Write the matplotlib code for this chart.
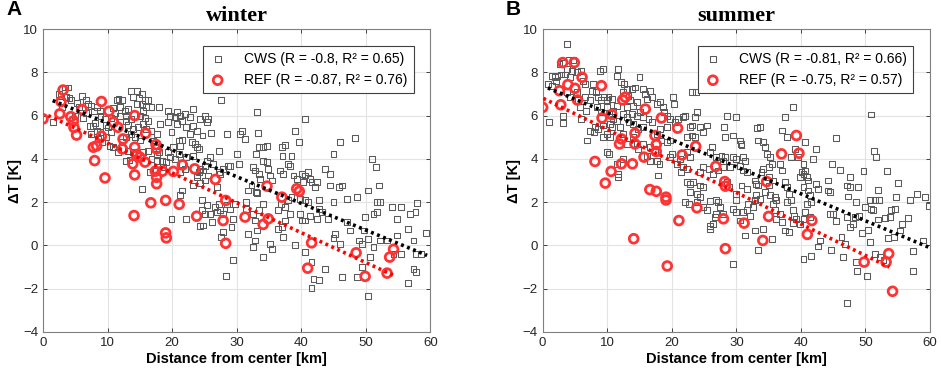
import numpy as np
import matplotlib
matplotlib.use("Agg")
import matplotlib.pyplot as plt

plt.rcParams["font.family"] = ["Liberation Sans", "DejaVu Sans"]

# ---- data: (distance km, dT K) ----
winter_cws = [
    (1.6, 5.7), (2.5, 7.0), (3.4, 7.3), (3.9, 7.3), (4.1, 6.8), (3.6, 6.85), (4.3, 6.7), (2.8, 6.9),
    (6.0, 6.9), (6.7, 6.7), (7.0, 6.55), (5.6, 6.4), (4.9, 6.0), (6.2, 5.9), (6.6, 6.1), (7.3, 5.5),
    (7.7, 5.5), (8.1, 5.65), (8.3, 5.3), (8.8, 5.25), (7.5, 5.15), (8.5, 4.9), (7.9, 6.2), (7.5, 6.45),
    (8.3, 6.4), (8.8, 6.2), (8.9, 6.0), (9.6, 5.85), (9.7, 5.55), (10.1, 5.45), (10.5, 5.25), (9.8, 5.0),
    (10.3, 4.6), (10.9, 4.55), (11.4, 6.7), (11.7, 6.77), (12.3, 6.7), (11.9, 6.4), (10.9, 6.35),
    (11.2, 6.1), (11.9, 6.0), (12.7, 6.2), (13.2, 6.3), (12.9, 6.0), (12.8, 5.77), (13.6, 5.85),
    (13.2, 5.55), (13.7, 7.15), (14.6, 7.15), (15.4, 7.0), (14.0, 6.85), (14.9, 6.8), (15.8, 6.72),
    (16.2, 6.7), (14.5, 6.55), (15.3, 6.55), (16.0, 6.4), (16.8, 6.4), (15.5, 6.2), (15.0, 6.0),
    (15.8, 5.9), (16.3, 5.77), (15.5, 5.6), (14.7, 5.46), (16.0, 5.4), (16.8, 5.3), (14.0, 5.4),
    (13.7, 5.15), (14.2, 5.0), (15.0, 4.85), (12.9, 5.0), (12.2, 4.77), (13.2, 4.38), (14.0, 4.3),
    (13.4, 3.95), (12.9, 3.9), (11.6, 4.3), (15.5, 4.3), (16.3, 4.38), (17.1, 4.85), (18.0, 6.4),
    (18.1, 5.6), (17.6, 5.15), (18.0, 4.3), (18.4, 3.9), (16.6, 3.38), (17.3, 3.46), (15.4, 2.6),
    (19.4, 6.23), (19.7, 6.0), (20.4, 5.92), (20.7, 6.15), (21.2, 6.0), (21.5, 5.74), (22.0, 6.08),
    (19.4, 5.7), (20.7, 5.6), (19.9, 5.23), (21.0, 4.85), (21.6, 4.88), (21.2, 4.6), (20.2, 4.54),
    (19.4, 4.3), (21.0, 4.23), (22.2, 5.46), (22.8, 5.15), (23.3, 6.3), (22.8, 5.92), (23.2, 5.5),
    (23.8, 5.28), (24.3, 5.85), (25.1, 6.0), (25.4, 5.7), (25.6, 5.85), (26.0, 5.18), (24.7, 5.08),
    (23.1, 4.77), (23.5, 4.7), (23.8, 4.54), (24.1, 4.46), (23.2, 4.15), (22.2, 4.08), (21.5, 3.77),
    (22.0, 3.54), (21.2, 3.38), (21.5, 2.54), (21.2, 2.31), (19.9, 1.23), (22.1, 1.23), (23.8, 3.23),
    (24.1, 3.38), (24.3, 3.54), (24.8, 3.46), (25.1, 3.69), (25.4, 3.92), (25.9, 4.08), (25.6, 3.23),
    (25.1, 3.0), (24.3, 2.88), (23.8, 3.15), (23.3, 2.77), (24.6, 2.08), (25.4, 1.85), (25.1, 1.46),
    (25.9, 1.46), (24.8, 0.92), (24.3, 0.88), (26.2, 1.08), (27.2, 4.38), (27.6, 6.74), (28.5, 5.15),
    (26.4, 3.77), (27.2, 3.38), (27.4, 3.3), (27.9, 3.54), (28.7, 3.65), (29.0, 3.69), (26.9, 2.7),
    (26.7, 1.77), (27.2, 1.92), (26.9, 1.54), (27.4, 1.62), (27.9, 1.46), (28.5, 1.89), (29.0, 1.66),
    (29.8, 1.92), (30.0, 4.23), (30.4, 3.77), (30.5, 5.15), (30.8, 5.3), (31.3, 4.92), (29.5, 1.23),
    (29.2, 0.85), (27.9, 0.62), (27.6, 0.38), (29.5, -0.66), (28.3, -1.43), (31.5, 1.69), (31.4, 2.0),
    (31.8, 2.54), (32.3, 2.77), (33.1, 6.15), (33.3, 5.2), (33.4, 4.54), (34.1, 4.54), (34.7, 4.6),
    (33.0, 4.23), (32.6, 3.62), (32.9, 3.46), (33.4, 3.3), (33.6, 3.08), (33.0, 2.46), (33.1, 2.42),
    (34.1, 3.92), (34.7, 3.85), (34.9, 3.54), (35.2, 3.23), (35.5, 3.0), (34.1, 1.92), (33.4, 1.62),
    (32.6, 1.46), (32.9, 1.15), (33.1, 0.69), (31.8, 0.54), (32.9, 0.23), (32.6, -0.08), (34.1, -0.54),
    (35.5, -0.15), (35.2, 0.08), (36.4, 0.77), (37.0, 0.85), (37.2, 0.38), (36.4, 1.62), (36.9, 1.92),
    (37.5, 1.77), (38.0, 2.08), (38.5, 2.23), (37.5, 1.15), (38.3, 1.46), (37.0, 4.54), (37.5, 4.66),
    (37.1, 4.15), (38.5, 4.15), (39.0, 5.28), (39.6, 4.77), (38.0, 3.77), (38.3, 3.69), (36.7, 3.46),
    (37.2, 3.3), (38.8, 3.23), (39.3, 3.08), (40.1, 3.3), (40.6, 3.23), (41.1, 3.38), (41.4, 3.08),
    (40.3, 2.92), (41.6, 2.92), (42.2, 2.69), (42.4, 2.92), (40.6, 5.85), (39.8, 2.15), (40.6, 2.08),
    (41.1, 2.0), (39.8, 1.46), (40.1, 1.15), (40.6, 1.15), (41.4, 1.38), (42.4, 1.23), (42.7, 1.69),
    (42.8, 2.08), (43.2, 1.54), (39.0, 0.0), (41.6, -0.77), (41.9, -1.54), (42.7, -1.58), (41.6, -1.95),
    (40.6, -0.3), (43.7, -1.08), (43.7, 3.54), (44.5, 3.3), (45.0, 4.23), (46.0, 4.77), (44.5, 2.77),
    (45.8, 2.7), (46.3, 2.77), (45.0, 2.0), (47.1, 2.15), (48.4, 4.95), (48.6, 2.23), (44.2, 1.23),
    (45.3, 0.54), (45.0, 0.35), (46.0, 0.08), (47.1, 1.08), (47.6, 0.69), (48.9, 0.23), (49.4, 0.08),
    (49.7, 0.69), (49.9, 1.31), (50.4, 2.54), (50.9, 4.0), (51.6, 3.62), (51.2, 1.46), (51.7, 2.0),
    (52.2, 2.0), (51.7, 1.54), (52.1, 2.77), (50.4, 0.31), (51.2, -0.08), (50.6, -0.54), (49.4, -1.0),
    (48.6, -1.46), (50.4, -2.35), (46.3, -1.46), (52.2, 0.23), (53.3, 0.23), (54.1, 1.77), (54.8, 1.23),
    (55.4, 1.77), (54.8, 0.46), (54.3, -0.38), (55.4, -0.38), (56.6, 0.77), (56.9, 1.46), (58.0, 1.95),
    (57.7, 1.54), (57.4, 0.23), (57.7, -0.38), (57.4, -1.08), (57.8, -1.23), (56.6, -1.74), (59.4, 0.58),
    (58.5, -0.38), (17.6, 3.92), (18.6, 3.62), (19.1, 3.85), (19.7, 4.08), (20.4, 4.0), (17.6, 4.23),
    (16.8, 4.0), (24.6, 1.62), (3.0, 6.4), (5.2, 6.6), (9.2, 4.8), (10.6, 5.9),
]
winter_ref = [
    (0.0, 5.85), (3.1, 7.18), (2.8, 6.65), (2.6, 6.08), (4.3, 5.95), (4.7, 5.75), (4.8, 5.45),
    (5.2, 5.1), (6.05, 6.28), (7.8, 4.54), (8.3, 4.6), (8.0, 3.92), (9.05, 6.65), (9.05, 5.05),
    (9.6, 3.12), (10.2, 6.2), (10.9, 5.7), (11.6, 5.46), (12.4, 4.92), (12.3, 4.46), (14.2, 6.0),
    (14.2, 4.54), (14.5, 4.2), (15.0, 4.08), (13.9, 3.77), (14.2, 3.26), (14.1, 1.38), (15.8, 3.85),
    (15.9, 5.18), (17.5, 4.66), (17.6, 4.46), (17.4, 3.43), (17.6, 3.15), (17.6, 2.85), (18.5, 3.43),
    (16.7, 1.97), (19.0, 2.08), (19.0, 0.58), (19.1, 0.35), (20.2, 3.42), (21.1, 1.9), (21.6, 3.72),
    (23.5, 3.54), (23.8, 1.35), (26.7, 3.05), (27.9, 1.15), (28.3, 2.08), (28.3, 0.1), (31.3, 1.31),
    (34.1, 0.97), (34.7, 2.74), (34.9, 1.23), (37.0, 2.23), (39.3, 2.62), (39.7, 2.5), (41.0, -1.05),
    (41.6, 0.12), (48.5, -0.34), (49.9, -1.43), (53.3, -1.28), (53.7, -0.54), (54.3, -0.18),
]
summer_cws = [
    (3.8, 9.3), (2.6, 8.4), (3.1, 8.45), (4.0, 8.55), (4.7, 8.55), (3.7, 8.15), (4.5, 8.08), (1.5, 7.85),
    (1.9, 7.77), (2.3, 7.85), (0.8, 7.46), (1.4, 7.38), (2.1, 7.6), (2.9, 7.9), (3.5, 7.9), (4.2, 7.77),
    (5.3, 8.0), (5.9, 8.05), (6.3, 7.6), (6.6, 7.46), (1.0, 5.7), (3.2, 5.65), (3.1, 6.0), (3.7, 7.08),
    (4.2, 6.85), (5.3, 7.08), (5.5, 6.7), (5.8, 6.38), (6.6, 6.85), (6.7, 6.23), (6.0, 5.85), (6.8, 4.85),
    (7.3, 6.7), (7.6, 7.15), (7.8, 7.46), (8.3, 7.08), (8.9, 8.08), (9.4, 8.15), (8.6, 6.85), (9.1, 6.7),
    (9.5, 6.85), (9.9, 6.7), (10.2, 6.85), (10.7, 6.77), (8.4, 6.38), (9.1, 6.15), (9.9, 6.38),
    (10.3, 6.08), (10.9, 6.23), (11.5, 6.46), (8.1, 5.46), (7.3, 5.3), (7.9, 5.23), (8.6, 5.38),
    (9.4, 5.54), (10.4, 5.62), (10.9, 5.85), (11.5, 5.77), (10.7, 5.46), (9.9, 5.15), (9.4, 5.0),
    (10.4, 5.0), (10.0, 4.31), (10.3, 4.23), (11.5, 3.77), (11.7, 3.15), (11.6, 3.31), (11.7, 8.15),
    (11.5, 7.85), (12.1, 7.54), (12.6, 7.46), (13.0, 7.23), (12.4, 7.08), (13.3, 6.92), (13.8, 7.23),
    (14.3, 7.3), (15.0, 7.77), (15.5, 7.23), (15.8, 7.0), (16.6, 7.15), (16.1, 6.77), (16.9, 6.85),
    (13.5, 6.7), (13.0, 6.38), (14.0, 6.46), (14.6, 6.62), (12.5, 6.08), (13.0, 5.92), (13.8, 6.08),
    (14.6, 6.0), (15.1, 6.15), (15.6, 5.92), (16.4, 5.85), (16.9, 5.7), (13.3, 5.7), (14.0, 5.62),
    (14.8, 5.38), (15.6, 5.46), (12.0, 5.46), (12.5, 5.15), (14.0, 5.0), (14.6, 4.69), (14.8, 4.46),
    (13.0, 4.69), (12.5, 4.0), (15.6, 4.69), (16.6, 4.54), (17.4, 4.31), (16.1, 4.15), (16.6, 3.92),
    (17.7, 3.92), (17.8, 3.23), (18.1, 3.77), (17.7, 6.54), (18.2, 6.62), (18.6, 6.38), (18.8, 6.15),
    (19.2, 6.0), (19.7, 5.85), (20.2, 6.85), (20.3, 6.54), (21.0, 5.85), (20.5, 5.7), (19.2, 5.46),
    (18.2, 5.38), (17.7, 5.15), (18.4, 4.85), (19.2, 4.77), (19.7, 4.85), (20.0, 4.23), (19.7, 4.08),
    (21.3, 4.0), (20.8, 3.77), (21.4, 3.38), (21.8, 3.62), (22.3, 3.54), (22.8, 4.08), (22.3, 4.31),
    (21.8, 5.92), (22.0, 6.0), (22.8, 5.46), (23.2, 5.54), (23.6, 5.92), (23.9, 6.15), (23.1, 7.08),
    (23.7, 7.08), (22.3, 5.0), (23.1, 5.08), (23.6, 5.0), (24.4, 5.46), (25.5, 5.54), (24.9, 5.23),
    (25.9, 4.31), (26.2, 4.54), (26.9, 4.08), (27.7, 4.15), (28.2, 4.08), (28.0, 3.92), (28.0, 3.62),
    (27.2, 3.46), (26.4, 3.31), (24.9, 3.62), (24.4, 3.38), (25.7, 3.54), (22.3, 2.92), (22.8, 2.85),
    (23.3, 2.92), (24.4, 2.77), (24.9, 2.69), (22.8, 2.46), (23.9, 2.38), (24.4, 2.23), (22.0, 2.0),
    (22.6, 1.92), (23.9, 2.0), (24.9, 1.77), (25.4, 1.62), (25.9, 2.05), (26.9, 2.08), (27.2, 2.0),
    (27.5, 1.77), (26.9, 1.46), (28.0, 1.46), (25.9, 0.88), (25.9, 0.77), (26.7, 1.31), (26.4, 1.0),
    (28.5, 2.92), (28.9, 2.69), (29.0, 3.62), (29.5, 4.08), (30.0, 4.0), (28.5, 6.0), (29.9, 5.95),
    (28.1, 5.46), (28.3, 5.0), (29.5, 5.08), (30.6, 4.85), (30.7, 4.69), (30.8, 4.62), (31.1, 4.08),
    (31.3, 3.92), (30.6, 3.69), (31.1, 3.46), (31.6, 3.38), (30.8, 2.77), (31.6, 2.62), (30.0, 2.38),
    (30.0, 2.08), (29.5, 1.69), (30.0, 1.54), (30.6, 1.15), (31.1, 1.54), (31.6, 1.62), (32.1, 1.38),
    (31.8, 1.92), (32.6, 1.77), (32.9, 2.08), (33.1, 2.31), (33.7, 2.15), (32.9, 3.0), (33.1, 2.85),
    (33.4, 2.77), (33.9, 3.38), (34.2, 3.54), (33.4, 4.85), (34.2, 4.77), (34.4, 4.54), (34.7, 4.23),
    (33.7, 5.46), (33.2, 5.42), (35.2, 4.08), (35.5, 3.77), (35.0, 3.62), (35.0, 3.15), (35.7, 3.0),
    (35.0, 2.77), (34.4, 2.46), (35.2, 2.31), (36.0, 2.23), (36.2, 2.08), (35.7, 1.92), (36.0, 1.62),
    (36.2, 1.23), (36.8, 1.46), (37.1, 1.08), (37.5, 0.69), (35.5, 0.31), (34.2, 0.77), (32.9, 0.69),
    (31.3, 0.46), (33.4, -0.23), (29.5, -0.85), (36.8, 3.77), (37.1, 3.46), (37.5, 2.92), (37.8, 2.69),
    (38.2, 2.38), (38.4, 2.08), (37.8, 2.0), (38.8, 1.62), (39.0, 1.38), (38.8, 1.03), (38.2, 0.62),
    (39.3, 1.23), (37.1, 5.31), (37.8, 5.0), (37.5, 5.92), (38.8, 6.38), (39.1, 4.46), (38.4, 4.08),
    (39.6, 4.08), (39.9, 3.15), (40.1, 3.38), (40.4, 3.31), (40.6, 3.46), (40.4, 3.77), (40.9, 3.15),
    (41.1, 3.0), (40.4, 2.69), (41.1, 2.54), (41.4, 2.31), (41.6, 2.0), (40.9, 1.92), (40.6, 1.54),
    (40.4, 1.23), (41.4, 1.31), (39.8, 1.0), (40.6, 4.77), (40.4, -0.62), (41.6, -0.5), (42.4, 4.46),
    (41.9, 4.0), (42.4, 2.85), (42.7, 2.62), (42.9, 0.23), (42.7, -0.05), (44.2, 3.0), (44.8, 3.77),
    (44.2, 2.54), (44.5, 2.46), (44.5, 1.46), (45.0, 1.46), (45.4, 1.12), (44.6, -0.2), (45.5, 4.97),
    (46.0, 3.49), (46.5, -0.54), (46.3, 0.41), (47.1, 2.77), (47.3, 2.26), (47.6, 3.15), (47.6, 2.72),
    (47.1, 1.31), (47.6, 0.85), (46.8, 0.08), (47.2, -2.65), (48.1, 1.0), (48.4, 1.31), (48.6, 2.0),
    (48.9, 2.69), (49.0, 1.34), (48.7, -1.18), (48.6, -0.77), (49.7, 3.43), (49.9, 1.77), (50.7, 2.08),
    (50.4, 0.72), (50.9, 1.69), (50.9, 6.05), (51.3, 4.35), (51.6, 4.08), (52.0, 2.57), (51.5, 2.08),
    (52.1, 2.08), (51.2, 1.62), (52.0, 1.2), (50.3, -1.43), (50.7, 0.15), (51.5, -0.38), (52.8, -0.69),
    (53.3, 3.43), (53.0, 1.28), (53.8, 1.31), (53.5, 0.35), (54.0, 1.65), (54.6, 1.69), (55.1, 2.88),
    (54.8, 2.23), (55.6, 0.97), (55.3, 0.69), (54.4, 0.41), (56.6, 1.28), (56.9, 2.08), (58.0, 2.38),
    (57.4, -0.26), (57.3, -1.2), (58.9, 0.23), (59.2, 2.23), (59.9, 1.82), (49.4, 0.58), (52.3, -0.54),
]
summer_ref = [
    (0.0, 6.38), (2.6, 7.15), (2.8, 6.5), (3.1, 8.45), (3.9, 7.43), (4.9, 8.45), (5.0, 7.26), (5.4, 6.72),
    (6.1, 7.77), (8.1, 3.88), (9.1, 7.38), (9.2, 5.89), (9.7, 2.88), (10.6, 3.42), (10.7, 6.05),
    (11.9, 4.69), (12.2, 4.92), (12.4, 6.72), (12.8, 6.85), (12.2, 3.77), (13.9, 3.77), (14.1, 0.31),
    (14.3, 5.18), (14.3, 4.69), (15.7, 4.08), (15.9, 6.3), (16.6, 2.58), (17.4, 5.08), (17.6, 4.66),
    (17.6, 4.34), (17.6, 2.5), (18.4, 5.89), (19.1, 2.23), (19.1, 2.1), (19.3, -0.95), (20.9, 5.42),
    (21.1, 1.15), (21.6, 4.18), (23.7, 4.58), (23.9, 1.74), (26.8, 3.65), (28.2, 2.95), (28.3, 2.74),
    (28.0, 1.23), (28.3, -0.15), (31.2, 1.03), (34.1, 0.23), (34.7, 2.95), (35.0, 1.34), (37.0, 4.23),
    (39.3, 5.08), (39.7, 4.26), (41.0, 0.51), (41.7, 1.15), (49.8, -0.77), (53.2, -0.77), (53.6, -0.38),
    (54.2, -2.12),
]

# linear fits as drawn (slope, intercept, x start, x end)
winter_fit_cws = (-0.1234, 6.88, 1.5, 59.5)
winter_fit_ref = (-0.138, 6.11, 0.8, 54.3)
summer_fit_cws = (-0.1248, 7.38, 0.8, 60.0)
summer_fit_ref = (-0.1455, 6.81, 0.1, 53.7)

winter_labels = ["CWS (R = -0.8, R² = 0.65)", "REF (R = -0.87, R² = 0.76)"]
summer_labels = ["CWS (R = -0.81, R² = 0.66)", "REF (R = -0.75, R² = 0.57)"]

panels = [
    ("A", "winter", winter_cws, winter_ref, winter_fit_cws, winter_fit_ref, winter_labels),
    ("B", "summer", summer_cws, summer_ref, summer_fit_cws, summer_fit_ref, summer_labels),
]

REF_RED = "#ff3333"
fig = plt.figure(figsize=(9.41, 3.77), dpi=100)
lefts = [0.0457, 0.5767]

for left, (tag, season, cws, ref, fc, fr, labels) in zip(lefts, panels):
    ax = fig.add_axes([left, 0.1194, 0.4116, 0.8036])
    cws = np.array(cws); ref = np.array(ref)
    ax.scatter(cws[:, 0], cws[:, 1], s=18, marker="s", facecolors="none",
               edgecolors="#5a5a5a", linewidths=0.75, label=labels[0], zorder=3)
    ax.scatter(ref[:, 0], ref[:, 1], s=40, marker="o", facecolors="none",
               edgecolors=REF_RED, linewidths=2.0, label=labels[1], zorder=4)
    for (m, b, x0, x1), col in [(fc, "black"), (fr, "#ff0000")]:
        xs = np.array([x0, x1])
        ax.plot(xs, m * xs + b, linestyle=(0, (0.8, 1.0)), color=col, lw=2.6, zorder=5)

    ax.set_xlim(0, 60); ax.set_ylim(-4, 10)
    ax.set_xticks(range(0, 61, 10)); ax.set_yticks(range(-4, 11, 2))
    ax.grid(True, color="#e3e3e3", lw=0.8); ax.set_axisbelow(True)
    ax.tick_params(direction="in", top=True, right=True, labelsize=9.5,
                   colors="#262626", length=3, width=0.6)
    for s in ax.spines.values():
        s.set_color("#808080"); s.set_linewidth(0.8)
    ax.set_xlabel("Distance from center [km]", fontsize=10.5, fontweight="bold", labelpad=2)
    ax.set_ylabel("ΔT [K]", fontsize=10.5, fontweight="bold", labelpad=1)
    ax.set_title(season, fontsize=16, fontweight="bold", family="Liberation Serif", pad=6)
    ax.text(-0.095, 1.095, tag, transform=ax.transAxes, fontsize=15, fontweight="bold",
            va="top", ha="left")
    leg = ax.legend(loc="upper right", bbox_to_anchor=(0.975, 0.968), fontsize=10,
                    frameon=True, fancybox=False, edgecolor="#404040", framealpha=1,
                    handletextpad=1.3, borderpad=0.45, labelspacing=0.5, handlelength=1.2)
    leg.get_frame().set_linewidth(0.8)

fig.savefig("out.png", dpi=100, facecolor="white")
